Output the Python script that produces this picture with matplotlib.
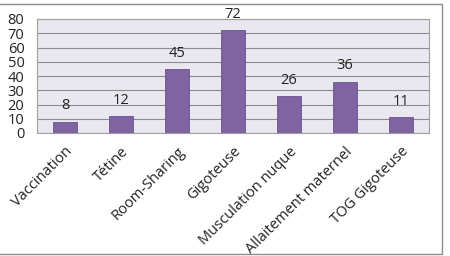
import matplotlib.pyplot as plt
import numpy as np
from matplotlib.patches import Rectangle

categories = ["Vaccination", "Tétine", "Room-Sharing", "Gigoteuse",
              "Musculation nuque", "Allaitement maternel", "TOG Gigoteuse"]
values = [8, 12, 45, 72, 26, 36, 11]
yticks = [0, 10, 20, 30, 40, 50, 60, 70, 80]

plt.rcParams["font.family"] = ["Open Sans", "DejaVu Sans"]

fig = plt.figure(figsize=(4.5, 2.56), dpi=100)
ax = fig.add_axes([37 / 450, 1 - 133 / 256, 392 / 450, 114 / 256])

x = np.arange(len(categories))
ax.bar(x, values, width=0.42, color="#8064a2", edgecolor="#6a5190", linewidth=0.6, zorder=3)

for xi, v in zip(x, values):
    ax.annotate(str(v), (xi, v), xytext=(0, 6), textcoords="offset points",
                ha="center", va="bottom", fontsize=10.5, color="#222222")

ax.set_xlim(-0.5, len(categories) - 0.5)
ax.set_ylim(0, 80)
ax.set_yticks(yticks)
ax.set_facecolor("#e9e7ef")
ax.grid(axis="y", color="#8c8c8c", linewidth=0.8, zorder=1)
ax.set_axisbelow(True)
for s in ax.spines.values():
    s.set_color("#a0a0a0")
    s.set_linewidth(0.8)
ax.tick_params(axis="both", length=0, labelsize=10.5, colors="#222222")
ax.tick_params(axis="y", pad=9)
ax.tick_params(axis="x", pad=8)
ax.set_xticks(x)
ax.set_xticklabels(categories, rotation=45, ha="right", rotation_mode="anchor")

# outer chart frame
fig.patches.append(Rectangle((-0.01, 2 / 256), 446 / 450, 250 / 256,
                             transform=fig.transFigure, fill=False,
                             edgecolor="#8c8c8c", linewidth=1.0))

fig.savefig("out.png", dpi=100)
